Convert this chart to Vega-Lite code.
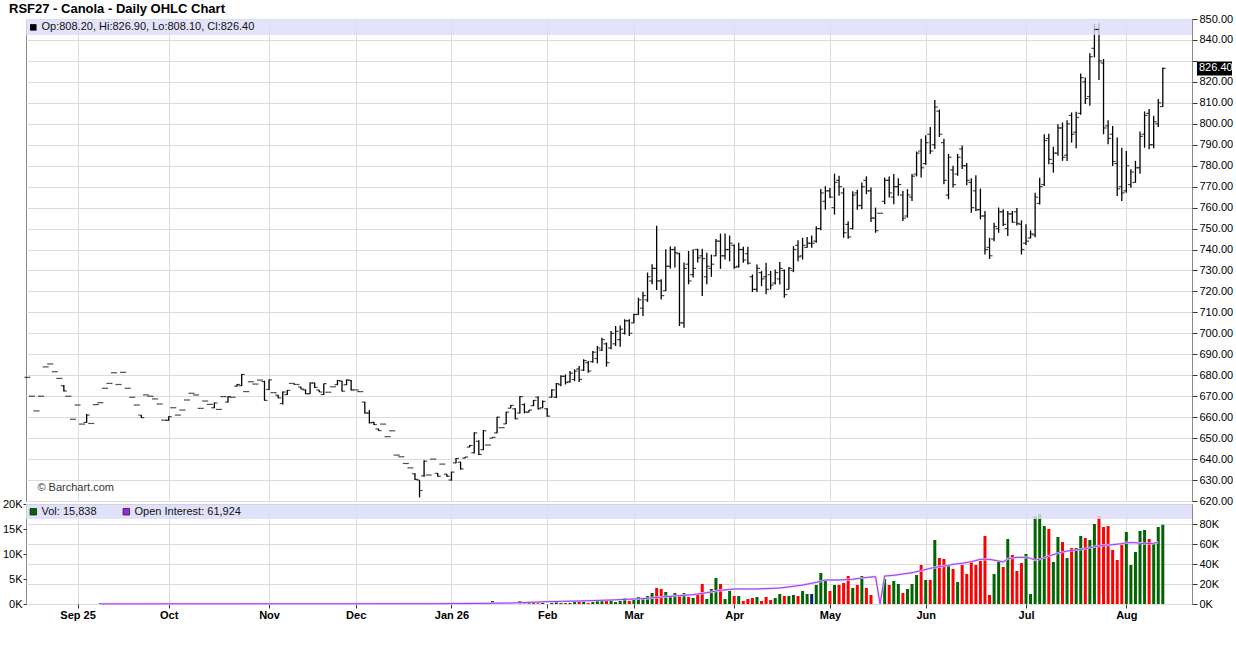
{
  "$schema": "https://vega.github.io/schema/vega-lite/v6.json",
  "background": "white",
  "padding": {"left": 1, "top": 2, "right": 0, "bottom": 0},
  "title": {"text": "RSF27 - Canola - Daily OHLC Chart", "anchor": "start", "frame": "group", "dx": -17, "fontSize": 13, "fontWeight": "bold", "font": "Liberation Sans", "color": "#000", "offset": -3},
  "config": {
    "font": "Liberation Sans",
    "view": {"stroke": "#8a8a8a", "strokeWidth": 1},
    "axis": {"labelFont": "Liberation Sans", "labelFontSize": 11, "labelColor": "#000", "gridColor": "#dcdcdc", "tickColor": "#333", "domain": false, "labelFlush": false, "labelOverlap": false}
  },
  "datasets": {
    "px": [
      {"i":0,"o":679,"h":679,"l":679,"c":679},{"i":1,"o":670,"h":670,"l":670,"c":670},{"i":2,"o":663,"h":663,"l":663,"c":663},
      {"i":3,"o":670,"h":670,"l":670,"c":670},{"i":4,"o":684,"h":684,"l":684,"c":684},{"i":5,"o":685.4,"h":685.4,"l":685.4,"c":685.4},
      {"i":6,"o":681.7,"h":681.7,"l":681.7,"c":681.7},{"i":7,"o":678.5,"h":678.5,"l":678.5,"c":678.5},{"i":8,"o":675,"h":675.3,"l":672.2,"c":672.5},
      {"i":9,"o":670,"h":670,"l":670,"c":670},{"i":10,"o":659,"h":659,"l":659,"c":659},{"i":11,"o":665.8,"h":665.8,"l":665.8,"c":665.8},
      {"i":12,"o":656.7,"h":656.7,"l":656.7,"c":656.7},{"i":13,"o":657.5,"h":661.5,"l":657.3,"c":661},{"i":14,"o":657,"h":657,"l":657,"c":657},
      {"i":15,"o":666,"h":666,"l":666,"c":666},{"i":16,"o":666.9,"h":666.9,"l":666.9,"c":666.9},{"i":17,"o":673.8,"h":673.8,"l":673.8,"c":673.8},
      {"i":18,"o":676.1,"h":676.1,"l":676.1,"c":676.1},{"i":19,"o":681.2,"h":681.2,"l":681.2,"c":681.2},{"i":20,"o":675.6,"h":675.6,"l":675.6,"c":675.6},
      {"i":21,"o":681.4,"h":681.4,"l":681.4,"c":681.4},{"i":22,"o":673.8,"h":673.8,"l":673.8,"c":673.8},{"i":23,"o":669.5,"h":669.5,"l":669.5,"c":669.5},
      {"i":24,"o":665.8,"h":665.8,"l":665.8,"c":665.8},{"i":25,"o":661,"h":661,"l":659.6,"c":659.8},{"i":26,"o":670.6,"h":670.6,"l":670.6,"c":670.6},
      {"i":27,"o":670,"h":670,"l":670,"c":670},{"i":28,"o":668.7,"h":668.7,"l":668.7,"c":668.7},{"i":29,"o":666.3,"h":666.3,"l":666.3,"c":666.3},
      {"i":30,"o":658.6,"h":658.6,"l":658.6,"c":658.6},{"i":31,"o":658.5,"h":660.5,"l":658.3,"c":660.3},{"i":32,"o":664.5,"h":664.5,"l":664.5,"c":664.5},
      {"i":33,"o":661,"h":661,"l":661,"c":661},{"i":34,"o":663.4,"h":663.4,"l":663.4,"c":663.4},{"i":35,"o":668.2,"h":668.2,"l":668.2,"c":668.2},
      {"i":36,"o":671.4,"h":671.4,"l":671.4,"c":671.4},{"i":37,"o":670.6,"h":670.6,"l":670.6,"c":670.6},{"i":38,"o":664.2,"h":664.2,"l":664.2,"c":664.2},
      {"i":39,"o":667.7,"h":667.7,"l":667.7,"c":667.7},{"i":40,"o":666.1,"h":666.1,"l":666.1,"c":666.1},{"i":41,"o":664.5,"h":667,"l":664.2,"c":666.8},
      {"i":42,"o":663.7,"h":663.7,"l":663.7,"c":663.7},{"i":43,"o":669.8,"h":669.8,"l":669.8,"c":669.8},{"i":44,"o":667.2,"h":670,"l":667,"c":669.8},
      {"i":45,"o":669.5,"h":669.5,"l":669.5,"c":669.5},{"i":46,"o":674.8,"h":675.8,"l":674.6,"c":675.6},{"i":47,"o":675,"h":680.6,"l":674.9,"c":680.4},
      {"i":48,"o":672.2,"h":672.2,"l":672.2,"c":672.2},{"i":49,"o":676.9,"h":676.9,"l":676.9,"c":676.9},{"i":50,"o":675.8,"h":675.8,"l":675.8,"c":675.8},
      {"i":51,"o":677.7,"h":677.7,"l":677.7,"c":677.7},{"i":52,"o":677,"h":677.4,"l":667.9,"c":668},{"i":53,"o":673.2,"h":678,"l":673,"c":677.8},
      {"i":54,"o":671.7,"h":671.7,"l":671.7,"c":671.7},{"i":55,"o":670.5,"h":670.6,"l":669,"c":669.2},{"i":56,"o":666.5,"h":672.2,"l":666.1,"c":672},
      {"i":57,"o":670.8,"h":673,"l":670.6,"c":672.8},{"i":58,"o":676.1,"h":676.1,"l":676.1,"c":676.1},{"i":59,"o":675.6,"h":675.6,"l":675.6,"c":675.6},
      {"i":60,"o":674.4,"h":674.5,"l":673.3,"c":673.4},{"i":61,"o":673,"h":673.3,"l":671,"c":671.2},{"i":62,"o":671.2,"h":676.5,"l":671,"c":676.3},
      {"i":63,"o":676.3,"h":676.5,"l":674,"c":674.2},{"i":64,"o":673,"h":673,"l":672,"c":672},{"i":65,"o":670.8,"h":676.1,"l":670.6,"c":676},
      {"i":66,"o":671.9,"h":671.9,"l":671.9,"c":671.9},{"i":67,"o":674.5,"h":674.5,"l":674.5,"c":674.5},{"i":68,"o":675.5,"h":677.7,"l":675.3,"c":677.5},
      {"i":69,"o":677.2,"h":677.4,"l":672.2,"c":672.4},{"i":70,"o":675.5,"h":678,"l":675.3,"c":677.8},{"i":71,"o":677.5,"h":677.7,"l":672.7,"c":673},
      {"i":72,"o":673,"h":673,"l":673,"c":673},{"i":73,"o":672.2,"h":672.2,"l":672.2,"c":672.2},{"i":74,"o":667.2,"h":667.4,"l":661.8,"c":662},
      {"i":75,"o":662,"h":663.4,"l":657,"c":657.3},{"i":76,"o":657.5,"h":657.8,"l":656.3,"c":656.5},{"i":77,"o":654.4,"h":654.5,"l":653.5,"c":653.6},
      {"i":78,"o":656.7,"h":656.7,"l":656.7,"c":656.7},{"i":79,"o":650.7,"h":650.7,"l":650.7,"c":650.7},{"i":80,"o":653.5,"h":653.5,"l":653.5,"c":653.5},
      {"i":81,"o":641.9,"h":641.9,"l":641.9,"c":641.9},{"i":82,"o":641.1,"h":641.1,"l":641.1,"c":641.1},{"i":83,"o":637.9,"h":637.9,"l":637.9,"c":637.9},
      {"i":84,"o":635.8,"h":635.8,"l":635.8,"c":635.8},{"i":85,"o":633,"h":633.2,"l":630,"c":630.3},{"i":86,"o":630,"h":630,"l":621.7,"c":625},
      {"i":87,"o":632,"h":639.5,"l":631.6,"c":639},{"i":88,"o":632.4,"h":632.4,"l":632.4,"c":632.4},{"i":89,"o":640,"h":640,"l":640,"c":640},
      {"i":90,"o":633.2,"h":633.4,"l":631.6,"c":631.8},{"i":91,"o":637.6,"h":637.6,"l":637.6,"c":637.6},{"i":92,"o":632.8,"h":632.9,"l":631.6,"c":631.8},
      {"i":93,"o":630,"h":634,"l":629.7,"c":633.8},{"i":94,"o":638.2,"h":640.5,"l":638,"c":640.3},{"i":95,"o":638.5,"h":638.8,"l":635,"c":635.3},
      {"i":96,"o":640.5,"h":641,"l":640.4,"c":641},{"i":97,"o":645.7,"h":646.7,"l":645.6,"c":646.5},{"i":98,"o":643,"h":652.8,"l":642.7,"c":652.5},
      {"i":99,"o":648.5,"h":649,"l":641.9,"c":642.2},{"i":100,"o":644.5,"h":653.9,"l":644.3,"c":653.5},{"i":101,"o":646.7,"h":646.7,"l":646.7,"c":646.7},
      {"i":102,"o":650,"h":650.4,"l":650,"c":650.4},{"i":103,"o":652.5,"h":660.2,"l":652.3,"c":660},{"i":104,"o":655,"h":655,"l":655,"c":655},
      {"i":105,"o":656.8,"h":662.6,"l":656.7,"c":662.4},{"i":106,"o":664.3,"h":665.8,"l":664.2,"c":665.6},{"i":107,"o":664,"h":664.2,"l":659,"c":659.2},
      {"i":108,"o":662,"h":670,"l":661.8,"c":669.8},{"i":109,"o":666,"h":666.6,"l":661.8,"c":662.5},{"i":110,"o":662.3,"h":663.4,"l":662.3,"c":663.4},
      {"i":111,"o":665.5,"h":668.2,"l":665.3,"c":668},{"i":112,"o":669.5,"h":670,"l":663.7,"c":664},{"i":113,"o":664.5,"h":667.9,"l":664.2,"c":667.5},
      {"i":114,"o":664,"h":664.2,"l":660.2,"c":660.5},{"i":115,"o":669.5,"h":673.3,"l":669.3,"c":673},{"i":116,"o":669.5,"h":676.3,"l":669.2,"c":676},
      {"i":117,"o":675.5,"h":680,"l":674.8,"c":679.5},{"i":118,"o":679.5,"h":680.4,"l":675.6,"c":676.5},{"i":119,"o":677,"h":682,"l":676.4,"c":681},
      {"i":120,"o":678,"h":682.8,"l":677.2,"c":682},{"i":121,"o":683,"h":684.4,"l":676.8,"c":678},{"i":122,"o":682.5,"h":687.6,"l":682,"c":687},
      {"i":123,"o":686,"h":686.8,"l":681.2,"c":682},{"i":124,"o":686.5,"h":691.6,"l":686,"c":691},{"i":125,"o":688,"h":694,"l":685.7,"c":693},
      {"i":126,"o":692,"h":697.9,"l":691.6,"c":697},{"i":127,"o":695,"h":695.6,"l":684.1,"c":686},{"i":128,"o":693,"h":701.1,"l":692.4,"c":700},
      {"i":129,"o":695,"h":703.5,"l":694,"c":701},{"i":130,"o":697,"h":703.8,"l":693.6,"c":702},{"i":131,"o":700,"h":706.7,"l":699.5,"c":706},
      {"i":132,"o":706,"h":706.7,"l":698.7,"c":700},{"i":133,"o":705,"h":709.4,"l":704.8,"c":709},{"i":134,"o":709,"h":717,"l":708.8,"c":716},
      {"i":135,"o":712,"h":719.8,"l":708.3,"c":718},{"i":136,"o":716,"h":729,"l":715,"c":727},{"i":137,"o":725,"h":733,"l":723.4,"c":731},
      {"i":138,"o":731,"h":751.3,"l":720.7,"c":725},{"i":139,"o":725,"h":725.8,"l":716.2,"c":718},{"i":140,"o":720.3,"h":740.1,"l":720.2,"c":732},
      {"i":141,"o":732,"h":741.4,"l":730.9,"c":740},{"i":142,"o":740,"h":741.4,"l":731.4,"c":738.5},{"i":143,"o":738,"h":738.5,"l":703.5,"c":705},
      {"i":144,"o":705,"h":733.8,"l":702.7,"c":731},{"i":145,"o":733,"h":739.3,"l":723.4,"c":725},{"i":146,"o":728,"h":740.1,"l":726.6,"c":731},
      {"i":147,"o":740,"h":740.4,"l":733.8,"c":736},{"i":148,"o":737,"h":740.4,"l":717.8,"c":735.7},{"i":149,"o":727,"h":738.5,"l":723.4,"c":732},
      {"i":150,"o":731,"h":737.6,"l":727,"c":733},{"i":151,"o":737,"h":745,"l":736.8,"c":744},{"i":152,"o":744,"h":747.6,"l":730.8,"c":737},
      {"i":153,"o":737,"h":747.6,"l":735.2,"c":740},{"i":154,"o":740,"h":746.7,"l":734.4,"c":743},{"i":155,"o":742,"h":742.4,"l":730.8,"c":731.5},
      {"i":156,"o":732,"h":743.2,"l":731.3,"c":740},{"i":157,"o":740,"h":741.3,"l":733.7,"c":735},{"i":158,"o":738,"h":741.3,"l":732.9,"c":733.5},
      {"i":159,"o":727,"h":728.1,"l":719.7,"c":721},{"i":160,"o":721,"h":732.9,"l":719.7,"c":731},{"i":161,"o":729,"h":729.7,"l":722.5,"c":726},
      {"i":162,"o":727,"h":733.7,"l":718.6,"c":721},{"i":163,"o":728,"h":729.7,"l":720.9,"c":723},{"i":164,"o":724,"h":730.5,"l":723.3,"c":729},
      {"i":165,"o":726,"h":734,"l":723.3,"c":731},{"i":166,"o":730,"h":730.5,"l":717,"c":718.5},{"i":167,"o":721,"h":731.7,"l":720.9,"c":731},
      {"i":168,"o":730,"h":741.6,"l":729.2,"c":740},{"i":169,"o":742,"h":744.4,"l":734.4,"c":736.5},{"i":170,"o":737,"h":745.6,"l":735.2,"c":742},
      {"i":171,"o":741,"h":746,"l":740.8,"c":743},{"i":172,"o":743,"h":746.7,"l":740.8,"c":743},{"i":173,"o":744,"h":751.1,"l":743.2,"c":750},
      {"i":174,"o":750,"h":768.9,"l":749.2,"c":767},{"i":175,"o":763,"h":770.2,"l":759,"c":768},{"i":176,"o":768,"h":769.4,"l":764.6,"c":765},
      {"i":177,"o":760,"h":776.2,"l":756.7,"c":772},{"i":178,"o":773,"h":775.2,"l":765.7,"c":770},{"i":179,"o":767,"h":769.4,"l":745.6,"c":748},
      {"i":180,"o":752,"h":753.5,"l":745.1,"c":746},{"i":181,"o":750,"h":767.8,"l":749.5,"c":766},{"i":182,"o":767,"h":768.5,"l":759,"c":761},
      {"i":183,"o":761,"h":772,"l":759.2,"c":770},{"i":184,"o":773,"h":774.9,"l":766.4,"c":768},{"i":185,"o":768,"h":769.6,"l":753.1,"c":755},
      {"i":186,"o":755,"h":760,"l":748,"c":749},{"i":187,"o":757.3,"h":757.3,"l":757.3,"c":757.3},{"i":188,"o":763,"h":774.4,"l":761.6,"c":773},
      {"i":189,"o":773,"h":774.9,"l":764.8,"c":767},{"i":190,"o":765,"h":776,"l":761.6,"c":770},{"i":191,"o":770,"h":774,"l":765.6,"c":771},
      {"i":192,"o":766,"h":768,"l":753.6,"c":755},{"i":193,"o":756,"h":768.8,"l":755.2,"c":766},{"i":194,"o":765,"h":776,"l":763.2,"c":775},
      {"i":195,"o":776,"h":786.8,"l":774.9,"c":786},{"i":196,"o":787,"h":792.9,"l":774.4,"c":779},{"i":197,"o":781,"h":794.5,"l":780.4,"c":791},
      {"i":198,"o":795,"h":798.5,"l":785.6,"c":787},{"i":199,"o":790,"h":811.3,"l":788,"c":808},{"i":200,"o":806,"h":806.8,"l":793.7,"c":795},
      {"i":201,"o":791,"h":792.9,"l":771.2,"c":773},{"i":202,"o":766,"h":785.6,"l":764,"c":784},{"i":203,"o":778,"h":780,"l":769.6,"c":771},
      {"i":204,"o":776,"h":785.6,"l":775.2,"c":784},{"i":205,"o":788,"h":789.6,"l":778.4,"c":780},{"i":206,"o":780,"h":781.3,"l":770.7,"c":773},
      {"i":207,"o":772,"h":774,"l":757.6,"c":760},{"i":208,"o":768,"h":775.5,"l":758.4,"c":759},{"i":209,"o":759,"h":769.1,"l":754.4,"c":756},
      {"i":210,"o":756,"h":758.4,"l":737.6,"c":740},{"i":211,"o":741,"h":745.6,"l":735.5,"c":737},{"i":212,"o":745,"h":752.8,"l":744,"c":751},
      {"i":213,"o":750,"h":760,"l":748,"c":758},{"i":214,"o":758,"h":759.2,"l":751.2,"c":752},{"i":215,"o":750,"h":758.4,"l":746.4,"c":757},
      {"i":216,"o":757,"h":758.4,"l":752.8,"c":753},{"i":217,"o":758,"h":759.8,"l":751.5,"c":752.5},{"i":218,"o":752,"h":753.9,"l":737.6,"c":740},
      {"i":219,"o":743,"h":752,"l":742.1,"c":744},{"i":220,"o":745.5,"h":749.1,"l":745.3,"c":747.5},{"i":221,"o":747,"h":767.1,"l":745.9,"c":765},
      {"i":222,"o":762,"h":774.3,"l":761.5,"c":770},{"i":223,"o":771,"h":795,"l":770.3,"c":792},{"i":224,"o":793,"h":795.3,"l":780.7,"c":783},
      {"i":225,"o":781,"h":789,"l":776.7,"c":786},{"i":226,"o":786,"h":799.8,"l":784.7,"c":798},{"i":227,"o":798,"h":800.6,"l":782.3,"c":784},
      {"i":228,"o":785,"h":801.7,"l":782.3,"c":800},{"i":229,"o":804,"h":805.4,"l":791,"c":795},{"i":230,"o":796,"h":805.8,"l":788.3,"c":803},
      {"i":231,"o":805,"h":824,"l":804.3,"c":822},{"i":232,"o":820,"h":822.1,"l":809.4,"c":812},{"i":233,"o":813,"h":833.6,"l":808.6,"c":832},
      {"i":234,"o":836,"h":847.7,"l":831.7,"c":845},{"i":235,"o":845,"h":848,"l":820.9,"c":830},{"i":236,"o":829,"h":830.9,"l":795,"c":798},
      {"i":237,"o":799,"h":801.7,"l":790.2,"c":793},{"i":238,"o":795,"h":799,"l":779.9,"c":782},{"i":239,"o":781,"h":793.4,"l":765.5,"c":769},
      {"i":240,"o":770,"h":788.6,"l":763.1,"c":767},{"i":241,"o":768,"h":787,"l":767.1,"c":780},{"i":242,"o":771,"h":778.3,"l":769.5,"c":777},
      {"i":243,"o":772,"h":782.3,"l":771.9,"c":779},{"i":244,"o":779,"h":796.3,"l":776.2,"c":794},{"i":245,"o":795,"h":805.9,"l":788.6,"c":804},
      {"i":246,"o":805,"h":807,"l":787.8,"c":790},{"i":247,"o":790,"h":803.8,"l":788.3,"c":801},{"i":248,"o":800,"h":811.8,"l":798.5,"c":810},
      {"i":249,"o":808.2,"h":826.9,"l":808.1,"c":826.4}
    ],
    "vol": [
      {"i":16,"v":150,"d":"up"},{"i":102,"v":600,"d":"up"},{"i":108,"v":600,"d":"up"},{"i":109,"v":150,"d":"down"},{"i":110,"v":200,"d":"up"},
      {"i":111,"v":400,"d":"up"},{"i":112,"v":150,"d":"down"},{"i":113,"v":200,"d":"up"},{"i":115,"v":200,"d":"up"},{"i":116,"v":400,"d":"up"},
      {"i":117,"v":200,"d":"up"},{"i":118,"v":200,"d":"down"},{"i":119,"v":200,"d":"up"},{"i":120,"v":400,"d":"up"},{"i":121,"v":400,"d":"down"},
      {"i":122,"v":800,"d":"up"},{"i":123,"v":200,"d":"down"},{"i":124,"v":400,"d":"up"},{"i":125,"v":600,"d":"up"},{"i":126,"v":800,"d":"up"},
      {"i":127,"v":800,"d":"down"},{"i":128,"v":800,"d":"up"},{"i":129,"v":400,"d":"up"},{"i":130,"v":600,"d":"up"},{"i":131,"v":1200,"d":"up"},
      {"i":132,"v":600,"d":"down"},{"i":133,"v":1000,"d":"up"},{"i":134,"v":1400,"d":"up"},{"i":135,"v":1200,"d":"up"},{"i":136,"v":1600,"d":"up"},
      {"i":137,"v":2200,"d":"up"},{"i":138,"v":3200,"d":"down"},{"i":139,"v":3000,"d":"down"},{"i":140,"v":2400,"d":"up"},{"i":141,"v":1600,"d":"up"},
      {"i":142,"v":2200,"d":"up"},{"i":143,"v":1600,"d":"down"},{"i":144,"v":2200,"d":"up"},{"i":145,"v":1400,"d":"down"},{"i":146,"v":1200,"d":"up"},
      {"i":147,"v":1800,"d":"down"},{"i":148,"v":4000,"d":"down"},{"i":149,"v":1000,"d":"up"},{"i":150,"v":3000,"d":"up"},{"i":151,"v":5200,"d":"up"},
      {"i":152,"v":4000,"d":"down"},{"i":153,"v":1000,"d":"up"},{"i":154,"v":2600,"d":"up"},{"i":155,"v":1600,"d":"down"},{"i":156,"v":1600,"d":"up"},
      {"i":157,"v":600,"d":"down"},{"i":158,"v":1000,"d":"down"},{"i":159,"v":1200,"d":"down"},{"i":160,"v":1400,"d":"up"},{"i":161,"v":600,"d":"down"},
      {"i":162,"v":1400,"d":"down"},{"i":163,"v":800,"d":"down"},{"i":164,"v":1200,"d":"up"},{"i":165,"v":2000,"d":"up"},{"i":166,"v":1600,"d":"down"},
      {"i":167,"v":1600,"d":"up"},{"i":168,"v":1800,"d":"up"},{"i":169,"v":1600,"d":"down"},{"i":170,"v":2600,"d":"up"},{"i":171,"v":2000,"d":"up"},
      {"i":172,"v":2000,"d":"unch"},{"i":173,"v":3800,"d":"up"},{"i":174,"v":6200,"d":"up"},{"i":175,"v":4800,"d":"up"},{"i":176,"v":2600,"d":"down"},
      {"i":177,"v":3800,"d":"up"},{"i":178,"v":3800,"d":"down"},{"i":179,"v":4200,"d":"down"},{"i":180,"v":5600,"d":"down"},{"i":181,"v":3200,"d":"up"},
      {"i":182,"v":3800,"d":"down"},{"i":183,"v":5600,"d":"up"},{"i":184,"v":3200,"d":"down"},{"i":185,"v":1800,"d":"down"},{"i":188,"v":5000,"d":"up"},
      {"i":189,"v":3800,"d":"down"},{"i":190,"v":4600,"d":"up"},{"i":191,"v":4000,"d":"up"},{"i":192,"v":2200,"d":"down"},{"i":193,"v":3000,"d":"up"},
      {"i":194,"v":4000,"d":"up"},{"i":195,"v":5800,"d":"up"},{"i":196,"v":7800,"d":"down"},{"i":197,"v":4800,"d":"up"},{"i":198,"v":4800,"d":"down"},
      {"i":199,"v":12800,"d":"up"},{"i":200,"v":9200,"d":"down"},{"i":201,"v":9000,"d":"down"},{"i":202,"v":7800,"d":"up"},{"i":203,"v":7000,"d":"down"},
      {"i":204,"v":4400,"d":"up"},{"i":205,"v":7800,"d":"down"},{"i":206,"v":6000,"d":"down"},{"i":207,"v":8500,"d":"down"},{"i":208,"v":7800,"d":"down"},
      {"i":209,"v":8600,"d":"down"},{"i":210,"v":13600,"d":"down"},{"i":211,"v":1800,"d":"down"},{"i":212,"v":6000,"d":"up"},{"i":213,"v":8500,"d":"up"},
      {"i":214,"v":7400,"d":"down"},{"i":215,"v":13000,"d":"up"},{"i":216,"v":9800,"d":"down"},{"i":217,"v":6600,"d":"down"},{"i":218,"v":8200,"d":"down"},
      {"i":219,"v":10000,"d":"up"},{"i":220,"v":2000,"d":"up"},{"i":221,"v":17500,"d":"up"},{"i":222,"v":18000,"d":"up"},{"i":223,"v":15600,"d":"up"},
      {"i":224,"v":15000,"d":"down"},{"i":225,"v":8400,"d":"up"},{"i":226,"v":13400,"d":"up"},{"i":227,"v":12400,"d":"down"},{"i":228,"v":9200,"d":"up"},
      {"i":229,"v":11200,"d":"down"},{"i":230,"v":11200,"d":"up"},{"i":231,"v":13600,"d":"up"},{"i":232,"v":13200,"d":"down"},{"i":233,"v":12800,"d":"up"},
      {"i":234,"v":16000,"d":"up"},{"i":235,"v":17600,"d":"down"},{"i":236,"v":15400,"d":"down"},{"i":237,"v":15600,"d":"down"},{"i":238,"v":10800,"d":"down"},
      {"i":239,"v":8800,"d":"down"},{"i":240,"v":11800,"d":"down"},{"i":241,"v":14400,"d":"up"},{"i":242,"v":7800,"d":"up"},{"i":243,"v":10400,"d":"up"},
      {"i":244,"v":14600,"d":"up"},{"i":245,"v":14800,"d":"up"},{"i":246,"v":13000,"d":"down"},{"i":247,"v":12000,"d":"up"},{"i":248,"v":15400,"d":"up"},
      {"i":249,"v":15838,"d":"up"}
    ],
    "oi": [
      {"i":16,"oi":100},{"i":30,"oi":150},{"i":50,"oi":200},{"i":70,"oi":250},{"i":90,"oi":300},{"i":100,"oi":600},{"i":106,"oi":1000},
      {"i":114,"oi":2300},{"i":121,"oi":3000},{"i":128,"oi":4000},{"i":133,"oi":5000},{"i":136,"oi":5700},{"i":140,"oi":7300},{"i":143,"oi":8300},
      {"i":146,"oi":9300},{"i":149,"oi":11300},{"i":152,"oi":13700},{"i":155,"oi":15000},{"i":160,"oi":15000},{"i":165,"oi":16000},{"i":168,"oi":17700},
      {"i":170,"oi":19000},{"i":172,"oi":20700},{"i":174,"oi":22700},{"i":175,"oi":24000},{"i":178,"oi":24000},{"i":181,"oi":24700},{"i":183,"oi":26000},
      {"i":185,"oi":27000},{"i":186,"oi":27300},{"i":187,"oi":0},{"i":188,"oi":28000},{"i":190,"oi":28700},{"i":192,"oi":30000},{"i":194,"oi":31300},
      {"i":196,"oi":33300},{"i":198,"oi":35700},{"i":200,"oi":37300},{"i":202,"oi":38700},{"i":203,"oi":39700},{"i":205,"oi":40700},{"i":207,"oi":42300},
      {"i":209,"oi":44700},{"i":211,"oi":44700},{"i":213,"oi":43000},{"i":214,"oi":42000},{"i":215,"oi":45300},{"i":217,"oi":46700},{"i":219,"oi":46700},
      {"i":220,"oi":45700},{"i":221,"oi":44000},{"i":222,"oi":44700},{"i":224,"oi":48000},{"i":226,"oi":50700},{"i":228,"oi":53000},{"i":230,"oi":54000},
      {"i":232,"oi":55300},{"i":234,"oi":57300},{"i":236,"oi":58700},{"i":238,"oi":59300},{"i":240,"oi":60300},{"i":241,"oi":61300},{"i":243,"oi":61300},
      {"i":245,"oi":60300},{"i":247,"oi":60700},{"i":248,"oi":61924}
    ]
  },
  "spacing": 3,
  "bounds": "flush",
  "vconcat": [
    {
      "width": 1166,
      "height": 482,
      "resolve": {"scale": {"x": "independent", "y": "independent"}, "axis": {"x": "independent", "y": "independent"}},
      "layer": [
        {
          "data": {"name": "px"},
          "mark": {"type": "rule", "color": "#000", "strokeWidth": 1.3},
          "encoding": {
            "x": {"field": "i", "type": "quantitative", "title": null, "scale": {"domain": [-0.3, 255.4], "nice": false, "zero": false, "padding": 0},
              "axis": {"orient": "bottom", "values": [11, 31, 53, 72, 93, 114, 133, 155, 176, 197, 219, 241], "grid": true, "labels": false, "ticks": false, "minExtent": 0, "maxExtent": 0}},
            "y": {"field": "l", "type": "quantitative", "title": null, "scale": {"domain": [620, 850], "nice": false, "zero": false},
              "axis": {"orient": "right", "values": [620, 630, 640, 650, 660, 670, 680, 690, 700, 710, 720, 730, 740, 750, 760, 770, 780, 790, 800, 810, 820, 830, 840, 850],
                "labelExpr": "datum.value == 830 ? '' : format(datum.value, '.2f')", "grid": true, "tickSize": 5, "labelPadding": 2, "minExtent": 45, "maxExtent": 45}},
            "y2": {"field": "h"}
          }
        },
        {
          "data": {"values": [{}]},
          "mark": {"type": "rect", "color": "#dcdcf8", "opacity": 0.8},
          "encoding": {
            "x": {"datum": -0.3, "type": "quantitative", "scale": {"domain": [-0.3, 255.4], "nice": false, "zero": false, "padding": 0}, "axis": null},
            "x2": {"datum": 255.4},
            "y": {"datum": 850, "type": "quantitative", "scale": {"domain": [620, 850], "nice": false, "zero": false}, "axis": null},
            "y2": {"datum": 842.4}
          }
        },
        {
          "data": {"name": "px"},
          "mark": {"type": "tick", "orient": "horizontal", "color": "#000", "size": 3, "thickness": 1.2, "xOffset": -1.5},
          "encoding": {
            "x": {"field": "i", "type": "quantitative", "title": null, "scale": {"domain": [-0.3, 255.4], "nice": false, "zero": false, "padding": 0}, "axis": null},
            "y": {"field": "o", "type": "quantitative", "title": null, "scale": {"domain": [620, 850], "nice": false, "zero": false}, "axis": null}
          }
        },
        {
          "data": {"name": "px"},
          "mark": {"type": "tick", "orient": "horizontal", "color": "#000", "size": 3, "thickness": 1.2, "xOffset": 1.5},
          "encoding": {
            "x": {"field": "i", "type": "quantitative", "title": null, "scale": {"domain": [-0.3, 255.4], "nice": false, "zero": false, "padding": 0}, "axis": null},
            "y": {"field": "c", "type": "quantitative", "title": null, "scale": {"domain": [620, 850], "nice": false, "zero": false}, "axis": null}
          }
        },
        {
          "data": {"values": [{}]},
          "mark": {"type": "point", "shape": "square", "filled": true, "color": "#000", "size": 42, "opacity": 1},
          "encoding": {
            "x": {"datum": 1.3, "type": "quantitative", "scale": {"domain": [-0.3, 255.4], "nice": false, "zero": false, "padding": 0}, "axis": null},
            "y": {"datum": 846, "type": "quantitative", "scale": {"domain": [620, 850], "nice": false, "zero": false}, "axis": null}
          }
        },
        {
          "data": {"values": [{}]},
          "mark": {"type": "text", "text": "Op:808.20, Hi:826.90, Lo:808.10, Cl:826.40", "align": "left", "baseline": "middle", "fontSize": 11, "color": "#111"},
          "encoding": {
            "x": {"datum": 3.1, "type": "quantitative", "scale": {"domain": [-0.3, 255.4], "nice": false, "zero": false, "padding": 0}, "axis": null},
            "y": {"datum": 846, "type": "quantitative", "scale": {"domain": [620, 850], "nice": false, "zero": false}, "axis": null}
          }
        },
        {
          "data": {"values": [{}]},
          "mark": {"type": "text", "text": "© Barchart.com", "align": "left", "baseline": "middle", "fontSize": 11, "color": "#333"},
          "encoding": {
            "x": {"datum": 2.2, "type": "quantitative", "scale": {"domain": [-0.3, 255.4], "nice": false, "zero": false, "padding": 0}, "axis": null},
            "y": {"datum": 626.2, "type": "quantitative", "scale": {"domain": [620, 850], "nice": false, "zero": false}, "axis": null}
          }
        },
        {
          "data": {"values": [{"p": 826.4}]},
          "mark": {"type": "rect", "color": "#000", "xOffset": 5, "x2Offset": 40, "yOffset": -7, "y2Offset": 7},
          "encoding": {
            "x": {"datum": 255.4, "type": "quantitative", "scale": {"domain": [-0.3, 255.4], "nice": false, "zero": false, "padding": 0}, "axis": null},
            "x2": {"datum": 255.4},
            "y": {"field": "p", "type": "quantitative", "scale": {"domain": [620, 850], "nice": false, "zero": false}, "axis": null},
            "y2": {"field": "p"}
          }
        },
        {
          "data": {"values": [{"p": 826.4}]},
          "mark": {"type": "text", "color": "#fff", "align": "left", "baseline": "middle", "fontSize": 11, "dx": 7},
          "encoding": {
            "x": {"datum": 255.4, "type": "quantitative", "scale": {"domain": [-0.3, 255.4], "nice": false, "zero": false, "padding": 0}, "axis": null},
            "y": {"field": "p", "type": "quantitative", "scale": {"domain": [620, 850], "nice": false, "zero": false}, "axis": null},
            "text": {"field": "p", "format": ".2f"}
          }
        }
      ]
    },
    {
      "width": 1166,
      "height": 100,
      "resolve": {"scale": {"x": "independent", "y": "independent"}, "axis": {"x": "independent", "y": "independent"}},
      "layer": [
        {
          "data": {"name": "vol"},
          "mark": {"type": "bar", "size": 3},
          "encoding": {
            "x": {"field": "i", "type": "quantitative", "title": null, "scale": {"domain": [-0.3, 255.4], "nice": false, "zero": false, "padding": 0},
              "axis": {"orient": "bottom", "values": [11, 31, 53, 72, 93, 114, 133, 155, 176, 197, 219, 241], "grid": true, "tickSize": 4, "labelPadding": 1, "labelFontWeight": "bold",
                "labelExpr": "['Sep 25','Oct','Nov','Dec','Jan 26','Feb','Mar','Apr','May','Jun','Jul','Aug'][indexof([11,31,53,72,93,114,133,155,176,197,219,241], datum.value)]"}},
            "y": {"field": "v", "type": "quantitative", "title": null, "scale": {"domain": [0, 20000], "nice": false},
              "axis": {"orient": "left", "values": [0, 5000, 10000, 15000, 20000], "labelExpr": "format(datum.value / 1000, 'd') + 'K'", "grid": false, "tickSize": 3, "labelPadding": 1, "minExtent": 24, "maxExtent": 24}},
            "color": {"field": "d", "type": "nominal", "scale": {"domain": ["up", "down", "unch"], "range": ["#006400", "#ff0000", "#0c1f6b"]}, "legend": null}
          }
        },
        {
          "data": {"name": "oi"},
          "mark": {"type": "line", "color": "#dcc4fb", "strokeWidth": 2.2, "interpolate": "linear"},
          "encoding": {
            "x": {"field": "i", "type": "quantitative", "title": null, "scale": {"domain": [-0.3, 255.4], "nice": false, "zero": false, "padding": 0}, "axis": null},
            "y": {"field": "oi", "type": "quantitative", "title": null, "scale": {"domain": [0, 100000], "nice": false}, "axis": null}
          }
        },
        {
          "data": {"name": "oi"},
          "mark": {"type": "line", "color": "#a23cf2", "strokeWidth": 1, "interpolate": "linear"},
          "encoding": {
            "x": {"field": "i", "type": "quantitative", "title": null, "scale": {"domain": [-0.3, 255.4], "nice": false, "zero": false, "padding": 0}, "axis": null},
            "y": {"field": "oi", "type": "quantitative", "title": null, "scale": {"domain": [0, 100000], "nice": false},
              "axis": {"orient": "right", "values": [0, 20000, 40000, 60000, 80000], "labelExpr": "format(datum.value / 1000, 'd') + 'K'", "grid": true, "tickSize": 5, "labelPadding": 2, "minExtent": 45, "maxExtent": 45}}
          }
        },
        {
          "data": {"values": [{}]},
          "mark": {"type": "rect", "color": "#dcdcf8", "opacity": 0.85},
          "encoding": {
            "x": {"datum": -0.3, "type": "quantitative", "scale": {"domain": [-0.3, 255.4], "nice": false, "zero": false, "padding": 0}, "axis": null},
            "x2": {"datum": 255.4},
            "y": {"datum": 20000, "type": "quantitative", "scale": {"domain": [0, 20000], "nice": false}, "axis": null},
            "y2": {"datum": 17000}
          }
        },
        {
          "data": {"values": [{"k": "Vol: 15,838", "col": "#006400", "sx": 1.3}, {"k": "Open Interest: 61,924", "col": "#a020f0", "sx": 21.7}]},
          "mark": {"type": "point", "shape": "square", "filled": true, "size": 42, "opacity": 1, "stroke": "#222", "strokeWidth": 0.8},
          "encoding": {
            "x": {"field": "sx", "type": "quantitative", "scale": {"domain": [-0.3, 255.4], "nice": false, "zero": false, "padding": 0}, "axis": null},
            "y": {"datum": 18450, "type": "quantitative", "scale": {"domain": [0, 20000], "nice": false}, "axis": null},
            "fill": {"field": "col", "type": "nominal", "scale": null}
          }
        },
        {
          "data": {"values": [{"k": "Vol: 15,838", "tx": 3.1}, {"k": "Open Interest: 61,924", "tx": 23.5}]},
          "mark": {"type": "text", "align": "left", "baseline": "middle", "fontSize": 11, "color": "#111"},
          "encoding": {
            "x": {"field": "tx", "type": "quantitative", "scale": {"domain": [-0.3, 255.4], "nice": false, "zero": false, "padding": 0}, "axis": null},
            "y": {"datum": 18450, "type": "quantitative", "scale": {"domain": [0, 20000], "nice": false}, "axis": null},
            "text": {"field": "k"}
          }
        }
      ]
    }
  ]
}
